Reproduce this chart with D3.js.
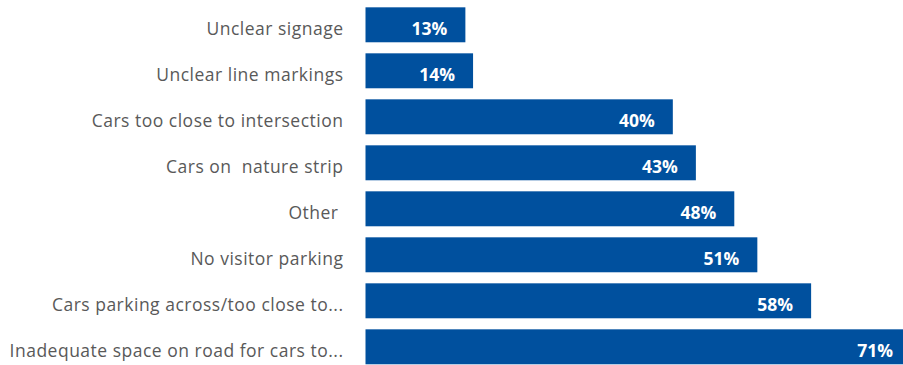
<!DOCTYPE html>
<html>
<head>
<meta charset="utf-8">
<script src="https://cdn.jsdelivr.net/npm/d3@7"></script>
<style>
  html, body { margin: 0; padding: 0; background: #ffffff; }
  svg { display: block; }
  .cat text { white-space: pre; }
</style>
</head>
<body>
<svg id="chart" width="903" height="365"></svg>
<script>
// Reported parking issues, share of respondents (%)
const categories = [
  "Unclear signage",
  "Unclear line markings",
  "Cars too close to intersection",
  "Cars on  nature strip",
  "Other ",
  "No visitor parking",
  "Cars parking across/too close to...",
  "Inadequate space on road for cars to..."
];
const values = [13, 14, 40, 43, 48, 51, 58, 71];

const svg = d3.select("#chart");

const x = d3.scaleLinear().domain([0, 71]).range([365.5, 911]);
const y = d3.scaleBand()
  .domain(categories)
  .range([1.8, 369.8])
  .paddingInner(0.24)
  .paddingOuter(0.12);

const rows = categories.map((c, i) => ({ c, v: values[i] }));

// Bars
svg.append("g").selectAll("rect")
  .data(rows)
  .join("rect")
  .attr("x", x(0))
  .attr("y", d => y(d.c))
  .attr("width", d => x(d.v) - x(0))
  .attr("height", y.bandwidth())
  .attr("fill", "#00509E");

// Value labels inside bar ends
svg.append("g").selectAll("text")
  .data(rows)
  .join("text")
  .attr("x", d => x(d.v) - 18)
  .attr("y", d => y(d.c) + y.bandwidth() / 2 + 4)
  .attr("dy", "0.35em")
  .attr("text-anchor", "end")
  .attr("font-family", "'Open Sans', sans-serif")
  .attr("font-weight", "bold")
  .attr("font-size", "17.5px")
  .attr("fill", "#ffffff")
  .text(d => d.v + "%");

// Category axis
const axis = d3.axisLeft(y).tickSize(0).tickPadding(0);
const gAxis = svg.append("g")
  .attr("class", "cat")
  .attr("transform", `translate(${343.5},0)`)
  .call(axis);
gAxis.select(".domain").remove();
gAxis.selectAll("text")
  .attr("dy", "0.35em")
  .attr("y", 4)
  .attr("font-family", "'Open Sans', sans-serif")
  .attr("font-size", "17.5px")
  .attr("letter-spacing", "0.5px")
  .attr("fill", "#595959");
</script>
</body>
</html>
